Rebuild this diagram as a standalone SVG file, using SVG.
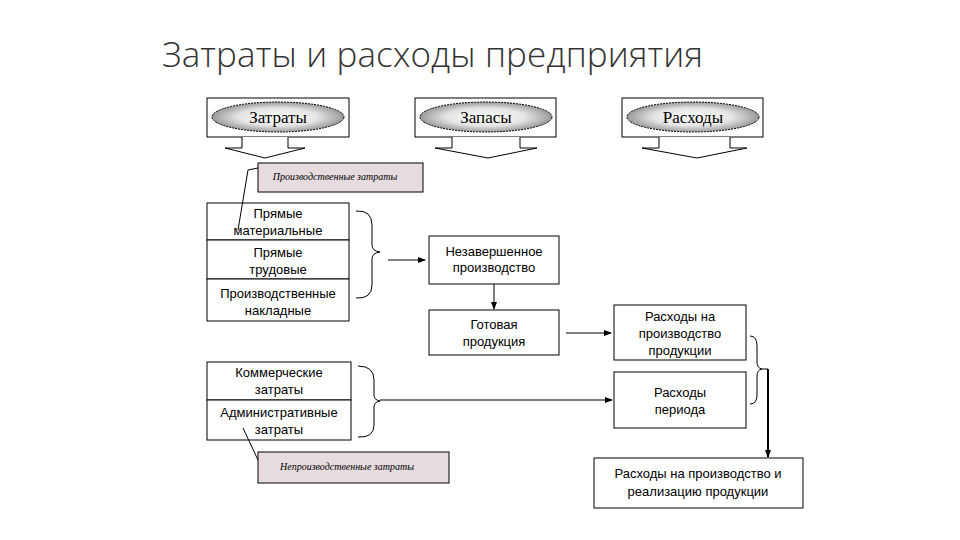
<svg xmlns="http://www.w3.org/2000/svg" width="960" height="540" viewBox="0 0 960 540">
<defs>
<radialGradient id="eg" cx="50%" cy="50%" r="50%"><stop offset="0" stop-color="#ffffff"/><stop offset="0.6" stop-color="#e4e4e4"/><stop offset="1" stop-color="#9a9a9a"/></radialGradient>
<marker id="ah" markerWidth="8" markerHeight="8" refX="7" refY="4" orient="auto" markerUnits="userSpaceOnUse"><path d="M0,1 L8,4 L0,7 Z" fill="#000"/></marker>
<style>
.b{fill:#fff;stroke:#000;stroke-width:1}
.p{fill:#e6dcdf;stroke:#000;stroke-width:1}
.t{font-family:"Liberation Sans",Arial,sans-serif;font-size:13px;fill:#000;text-anchor:middle}
.s{font-family:"Liberation Serif",serif;font-size:17px;fill:#000;text-anchor:middle}
.i{font-family:"Liberation Serif",serif;font-style:italic;font-size:10px;fill:#000;text-anchor:middle}
.l{fill:none;stroke:#000;stroke-width:1}
</style>
</defs>
<rect width="960" height="540" fill="#fff"/>
<text x="162" y="67" font-family="'Open Sans','Liberation Sans',sans-serif" font-weight="300" font-size="35" fill="#333" textLength="541">Затраты и расходы предприятия</text>
<g id="zatraty"><rect class="b" x="207" y="98" width="142" height="39"/><ellipse cx="278" cy="117" rx="66" ry="15" fill="url(#eg)" stroke="#000" stroke-dasharray="2,1"/><text class="s" x="278" y="123">Затраты</text><path class="b" d="M242,137 V148 H225 L265,158 L305,148 H288 V137"/></g>
<g id="zapasy"><rect class="b" x="415" y="98" width="141" height="39"/><ellipse cx="486" cy="117" rx="66" ry="15" fill="url(#eg)" stroke="#000" stroke-dasharray="2,1"/><text class="s" x="486" y="123">Запасы</text><path class="b" d="M452,137 V148 H435 L488,158 L537,148 H520 V137"/></g>
<g id="rashody"><rect class="b" x="622" y="98" width="141" height="39"/><ellipse cx="693" cy="117" rx="66" ry="15" fill="url(#eg)" stroke="#000" stroke-dasharray="2,1"/><text class="s" x="693" y="123">Расходы</text><path class="b" d="M659,137 V148 H642 L697,158 L747,148 H730 V137"/></g>
<g id="proizv"><rect class="p" x="258" y="163" width="165" height="29"/><text class="i" x="335" y="180">Производственные затраты</text></g>
<g id="stack1">
<rect class="b" x="207" y="203" width="142" height="37"/><text class="t" x="278" y="218">Прямые</text><text class="t" x="278" y="235">материальные</text>
<rect class="b" x="207" y="240" width="142" height="39"/><text class="t" x="278" y="257">Прямые</text><text class="t" x="278" y="274">трудовые</text>
<rect class="b" x="207" y="279" width="142" height="42"/><text class="t" x="278" y="298">Производственные</text><text class="t" x="278" y="315">накладные</text>
</g>
<g id="nezav"><rect class="b" x="429" y="236" width="130" height="48"/><text class="t" x="494" y="256">Незавершенное</text><text class="t" x="494" y="272">производство</text></g>
<g id="gotov"><rect class="b" x="429" y="310" width="130" height="45"/><text class="t" x="494" y="329">Готовая</text><text class="t" x="494" y="346">продукция</text></g>
<g id="stack2">
<rect class="b" x="207" y="362" width="144" height="38"/><text class="t" x="279" y="377">Коммерческие</text><text class="t" x="279" y="394">затраты</text>
<rect class="b" x="207" y="400" width="144" height="40"/><text class="t" x="279" y="417">Административные</text><text class="t" x="279" y="434">затраты</text>
</g>
<g id="neproizv"><rect class="p" x="258" y="452" width="191" height="31"/><text class="i" x="347" y="470">Непроизводственные затраты</text></g>
<g id="rpp"><rect class="b" x="614" y="305" width="132" height="55"/><text class="t" x="680" y="321">Расходы на</text><text class="t" x="680" y="338">производство</text><text class="t" x="680" y="355">продукции</text></g>
<g id="rper"><rect class="b" x="614" y="372" width="132" height="56"/><text class="t" x="680" y="397">Расходы</text><text class="t" x="680" y="414">периода</text></g>
<g id="itog"><rect class="b" x="594" y="458" width="209" height="50"/><text class="t" x="698" y="478">Расходы на производство и</text><text class="t" x="698" y="496">реализацию продукции</text></g>
<g id="connectors">
<path class="l" d="M258,168 L248,170 L238,230"/>
<path class="l" d="M243,428 L258,460"/>
<path class="l" d="M356,211 Q372,210 372,225 V245 Q372,251 380,252 Q372,253 372,259 V285 Q372,299 356,298"/>
<path class="l" d="M388,260 H425" marker-end="url(#ah)"/>
<path class="l" d="M494,284 V309" marker-end="url(#ah)"/>
<path class="l" d="M566,333 H611" marker-end="url(#ah)"/>
<path class="l" d="M358,366 Q374,366 374,380 V395 Q374,400 380,401 Q374,402 374,407 V425 Q374,438 358,437"/>
<path class="l" d="M380,400 H612" marker-end="url(#ah)"/>
<path class="l" d="M750,336 Q757,336 757,346 V362 Q757,368 762,369 Q757,370 757,376 V395 Q757,404 750,404"/>
<path class="l" d="M762,369 H768"/>
<path d="M768,369 V457" fill="none" stroke="#000" stroke-width="2" marker-end="url(#ah)"/>
</g>
</svg>
